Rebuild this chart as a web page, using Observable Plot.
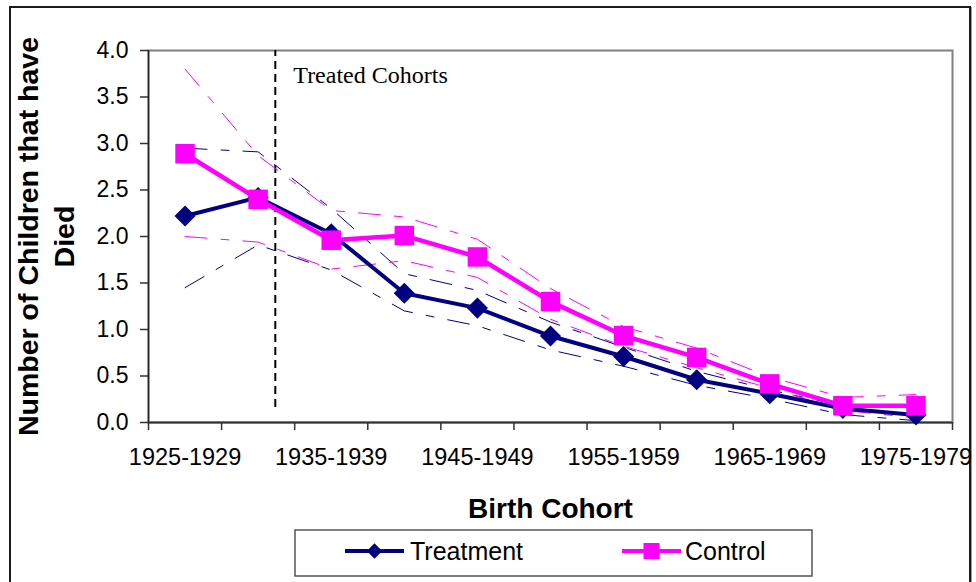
<!DOCTYPE html>
<html>
<head>
<meta charset="utf-8">
<script src="https://cdn.jsdelivr.net/npm/d3@7"></script>
<script src="https://cdn.jsdelivr.net/npm/@observablehq/plot@0.6"></script>
<style>
  body { margin: 0; background: #fff; }
  #wrap { position: relative; width: 976px; height: 582px; overflow: hidden; font-family: Arial, "Liberation Sans", sans-serif; background: #fff; }
  #border { position: absolute; left: 9px; top: 6px; width: 958px; height: 620px; border: 2px solid #1a1a1a; box-shadow: 1px 1px 0 #999; }
  #chart { position: absolute; left: 0; top: 0; }
  #legend { position: absolute; left: 294px; top: 529px; }
</style>
</head>
<body>
<div id="wrap">
  <div id="border"></div>
  <div id="chart"></div>
  <div id="legend"></div>
</div>
<script>
// Birth cohorts (categories)
const cohorts = ["1925-1929", "1930-1934", "1935-1939", "1940-1944", "1945-1949", "1950-1954",
                 "1955-1959", "1960-1964", "1965-1969", "1970-1974", "1975-1979"];
// Mean number of children that have died
const treatment = [2.22, 2.42, 2.03, 1.39, 1.23, 0.93, 0.71, 0.46, 0.31, 0.15, 0.08];
const control   = [2.89, 2.40, 1.96, 2.01, 1.78, 1.30, 0.935, 0.70, 0.415, 0.18, 0.18];
// Confidence bounds (thin dashed lines)
const treatmentUpper = [2.95, 2.91, 2.30, 1.60, 1.42, 1.08, 0.81, 0.55, 0.35, 0.18, 0.20];
const treatmentLower = [1.45, 1.91, 1.64, 1.20, 1.04, 0.78, 0.605, 0.40, 0.255, 0.085, 0.02];
const controlUpper   = [3.80, 2.87, 2.28, 2.21, 1.97, 1.44, 1.03, 0.80, 0.49, 0.27, 0.30];
const controlLower   = [2.00, 1.94, 1.65, 1.74, 1.56, 1.11, 0.82, 0.59, 0.37, 0.13, 0.05];
// Axis ticks
const yTicks = [0, 0.5, 1, 1.5, 2, 2.5, 3, 3.5, 4];
const xLabelIdx = [0, 2, 4, 6, 8, 10];
// Start of treated cohorts (position on cohort index axis) and its annotation
const treatedStart = 1.235;
const treatedLabel = "Treated Cohorts";
const seriesNames = ["Treatment", "Control"];

const NAVY = "#000080", MAG = "#FF00FF";
const idx = (d, i) => i;
const val = d => d;
const dash = "22,14,8,14";
const boundaries = d3.range(-0.5, cohorts.length, 1);

const chart = Plot.plot({
  width: 976,
  height: 582,
  marginLeft: 148,
  marginRight: 24,
  marginTop: 50,
  marginBottom: 160,
  style: { fontFamily: "Arial, 'Liberation Sans', sans-serif", color: "#000", background: "transparent", overflow: "visible" },
  x: { type: "linear", domain: [-0.5, cohorts.length - 0.5], axis: null },
  y: { domain: [0, 4], axis: null },
  marks: [
    Plot.frame({ stroke: "#808080", strokeWidth: 2 }),
    // y axis
    Plot.axisY({ ticks: yTicks, tickFormat: d => d.toFixed(1), tickSize: 8, tickPadding: 12,
                 fontSize: 23, stroke: "#333", strokeWidth: 1.5, label: null }),
    // x axis tick marks at category boundaries
    Plot.axisX({ ticks: boundaries, tickFormat: () => "", tickSize: 8, stroke: "#333", strokeWidth: 1.5, label: null }),
    // x axis labels
    Plot.axisX({ ticks: xLabelIdx, tickFormat: i => cohorts[i], tickSize: 0, tickPadding: 26,
                 fontSize: 23.5, label: null, style: "letter-spacing:0.3px" }),
    Plot.ruleX([-0.5], { stroke: "#222", strokeWidth: 1.5 }),
    Plot.ruleY([0], { stroke: "#333", strokeWidth: 2 }),
    // treated cohorts divider
    Plot.ruleX([treatedStart], { y1: 0.16, y2: 4, stroke: "#000", strokeWidth: 2, strokeDasharray: "8,5" }),
    Plot.text([treatedLabel], { x: () => treatedStart, text: val, frameAnchor: "top", dx: 18, dy: 15,
                 textAnchor: "start", lineAnchor: "top", fontSize: 24,
                 fontFamily: "'Times New Roman', 'Liberation Serif', serif", fill: "#000" }),
    // confidence bounds
    Plot.line(treatmentUpper, { x: idx, y: val, stroke: NAVY, strokeWidth: 1, strokeDasharray: dash }),
    Plot.line(treatmentLower, { x: idx, y: val, stroke: NAVY, strokeWidth: 1, strokeDasharray: dash }),
    Plot.line(controlUpper,   { x: idx, y: val, stroke: MAG, strokeWidth: 1, strokeDasharray: dash }),
    Plot.line(controlLower,   { x: idx, y: val, stroke: MAG, strokeWidth: 1, strokeDasharray: dash }),
    // main series
    Plot.line(treatment, { x: idx, y: val, stroke: NAVY, strokeWidth: 4 }),
    Plot.dot(treatment, { x: idx, y: val, symbol: "diamond2", r: 9.5, fill: NAVY, stroke: "none" }),
    Plot.line(control, { x: idx, y: val, stroke: MAG, strokeWidth: 4.5 }),
    Plot.dot(control, { x: idx, y: val, symbol: "square", r: 11, fill: MAG, stroke: "none" }),
    // axis titles
    Plot.text(["Number of Children that have\nDied"], { text: val, frameAnchor: "left", dx: -136, rotate: -90,
                 textAnchor: "middle", lineAnchor: "top", lineHeight: 1.27, fontSize: 28.5, fontWeight: "bold",
                 fill: "#000" }),
    Plot.text(["Birth Cohort"], { text: val, frameAnchor: "bottom", dy: 95, lineAnchor: "bottom",
                 fontSize: 28, fontWeight: "bold", fill: "#000", style: "letter-spacing:1.5px" })
  ]
});
document.getElementById("chart").appendChild(chart);

// Legend
const lg = d3.select("#legend").append("svg").attr("width", 520).attr("height", 49)
  .style("font-family", "Arial, 'Liberation Sans', sans-serif");
lg.append("rect").attr("x", 1).attr("y", 1).attr("width", 517).attr("height", 46)
  .attr("fill", "#fff").attr("stroke", "#555").attr("stroke-width", 1.5);
const items = [
  { name: seriesNames[0], color: NAVY, sym: d3.symbolDiamond2, size: 150, x0: 51, x1: 110, tx: 116 },
  { name: seriesNames[1], color: MAG, sym: d3.symbolSquare, size: 256, x0: 328, x1: 387, tx: 391 }
];
for (const it of items) {
  lg.append("line").attr("x1", it.x0).attr("x2", it.x1).attr("y1", 22).attr("y2", 22)
    .attr("stroke", it.color).attr("stroke-width", 4);
  lg.append("path").attr("d", d3.symbol(it.sym, it.size)())
    .attr("transform", `translate(${(it.x0 + it.x1) / 2},22)`).attr("fill", it.color);
  lg.append("text").attr("x", it.tx).attr("y", 31).attr("font-size", 25).attr("fill", "#000").text(it.name);
}
</script>
</body>
</html>
